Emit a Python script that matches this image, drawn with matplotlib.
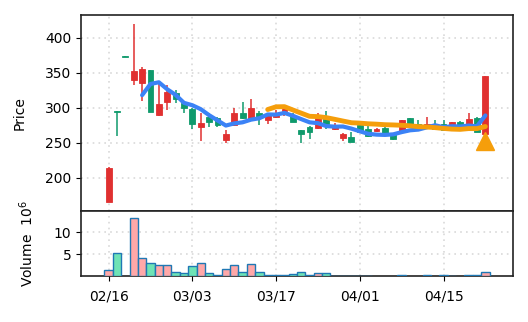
import matplotlib
matplotlib.use('Agg')
import matplotlib.pyplot as plt
import numpy as np
import pandas as pd

# daily candles, one per trading day (index 0..45)
opens = [166, 295, 374, 339, 336, 354, 290, 308, 321, 307,
         298, 273, 287, 285, 254, 275, 293, 283, 292, 283,
         287, 295, 288, 268, 273, 271, 284, 270, 257, 258,
         275, 270, 267, 271, 264, 267, 285, 277, 274, 277,
         277, 276, 280, 277, 286, 262]
highs = [215, 295, 374, 420, 358, 354, 336, 332, 325, 309,
         299, 293, 293, 287, 268, 300, 308, 313, 296, 291,
         297, 299, 292, 268, 274, 292, 295, 278, 264, 265,
         279, 279, 271, 272, 264, 283, 286, 282, 287, 282,
         282, 280, 281, 293, 287, 345]
lows = [165, 260, 373, 332, 310, 294, 288, 297, 307, 293,
        270, 253, 273, 273, 250, 274, 284, 281, 276, 277,
        285, 288, 279, 250, 256, 270, 270, 268, 253, 251,
        266, 258, 265, 260, 254, 267, 272, 274, 274, 270,
        268, 274, 272, 276, 265, 262]
closes = [214, 294, 373, 353, 356, 294, 306, 323, 313, 299,
          277, 278, 280, 276, 262, 292, 286, 299, 286, 289,
          291, 298, 279, 262, 266, 285, 277, 275, 263, 251,
          266, 259, 269, 261, 255, 282, 272, 274, 277, 270,
          268, 279, 272, 284, 265, 345]
volumes = [1.3, 5.3, 0.0, 13.2, 4.0, 2.9, 2.6, 2.4, 0.9, 0.7,
           2.3, 2.9, 0.6, 0.2, 1.6, 2.5, 1.0, 2.7, 0.9, 0.3,
           0.3, 0.3, 0.5, 0.8, 0.15, 0.6, 0.6, 0.1, 0.1, 0.1,
           0.1, 0.1, 0.0, 0.0, 0.0, 0.2, 0.0, 0.0, 0.2, 0.0,
           0.15, 0.1, 0.0, 0.2, 0.2, 0.9]

signal_idx = [45]
signal_price = [252]

tick_pos = [0, 10, 20, 30, 40]
tick_labels = ['02/16', '03/03', '03/17', '04/01', '04/15']

RED, GREEN = '#e03030', '#0f9a6c'
VRED, VGREEN = '#ffa8a8', '#6fe3b5'

df = pd.DataFrame({'o': opens, 'h': highs, 'l': lows, 'c': closes, 'v': volumes})
df['ma5'] = df['c'].rolling(5).mean()
df['ma20'] = df['c'].rolling(20).mean()
x = np.arange(len(df))
up = df['c'] >= df['o']

fig = plt.figure(figsize=(5.28, 3.22), dpi=100)
ax1 = fig.add_axes([0.1534, 0.3447, 0.8182, 0.6087])
ax2 = fig.add_axes([0.1534, 0.1429, 0.8182, 0.2018], sharex=ax1)

for ax in (ax1, ax2):
    ax.grid(True, linestyle=(0, (1, 2.5)), color='#d9d9d9', linewidth=1.2)
    ax.set_axisbelow(True)
    for s in ax.spines.values():
        s.set_linewidth(1.2)
        s.set_color('#222222')

# candles
cols = np.where(up, RED, GREEN)
ax1.vlines(x, df['l'], df['h'], colors=cols, linewidth=1.1, zorder=2)
body = np.maximum((df['c'] - df['o']).abs(), 0.8)
bottom = np.minimum(df['o'], df['c'])
ax1.bar(x, body, bottom=bottom, width=0.7, color=cols, edgecolor=cols,
        linewidth=0.6, zorder=3)

ax1.plot(x, df['ma5'], color='#3b82f6', linewidth=3, solid_capstyle='round', zorder=4)
ax1.plot(x, df['ma20'], color='#f59e0b', linewidth=3.5, solid_capstyle='round', zorder=5)
ax1.plot(signal_idx, signal_price, '^', color='#f59e0b', markersize=13, zorder=6)

ax1.set_ylim(152.5, 432.5)
ax1.set_yticks([200, 250, 300, 350, 400])
ax1.set_ylabel('Price', fontsize=10)
ax1.tick_params(axis='x', length=0, labelbottom=False)
ax1.tick_params(axis='y', labelsize=10, length=3.5)

# volume
vm = df['v'] > 0
vcols = np.where(up, VRED, VGREEN)
ax2.bar(x[vm], df['v'][vm], width=1.0, color=vcols[vm], edgecolor='#1f78b4',
        linewidth=1.0, zorder=3)
ax2.set_ylim(0, 14.8)
ax2.set_yticks([5, 10])
ax2.set_ylabel('Volume  $10^6$', fontsize=10)
ax2.set_xticks(tick_pos)
ax2.set_xticklabels(tick_labels)
ax2.tick_params(labelsize=10, length=3.5)
ax2.tick_params(axis='x', pad=6)
ax2.set_xlim(-3.3, 48.3)

ax1.yaxis.set_label_coords(-0.125, 0.5)
ax2.yaxis.set_label_coords(-0.105, 0.5)

fig.savefig('out.png', dpi=100)
